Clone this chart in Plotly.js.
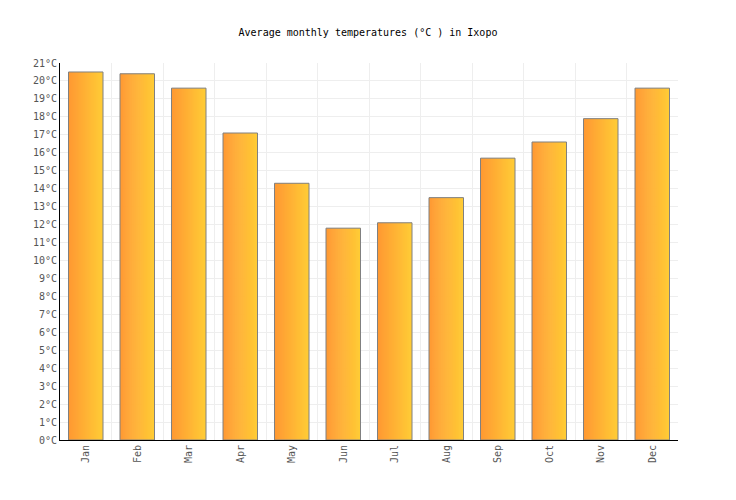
<!DOCTYPE html>
<html>
<head>
<meta charset="utf-8">
<script src="https://cdn.plot.ly/plotly-3.0.1.min.js"></script>
<style>
  html, body { margin: 0; padding: 0; background: #fff; }
  #chart { width: 736px; height: 500px; }
</style>
</head>
<body>
<div id="chart"></div>
<script>
"use strict";

// Data
var months = ["Jan", "Feb", "Mar", "Apr", "May", "Jun", "Jul", "Aug", "Sep", "Oct", "Nov", "Dec"]
var temps = [20.5, 20.4, 19.6, 17.1, 14.3, 11.8, 12.1, 13.5, 15.7, 16.6, 17.9, 19.6]
var tickValues = [0, 1, 2, 3, 4, 5, 6, 7, 8, 9, 10, 11, 12, 13, 14, 15, 16, 17, 18, 19, 20, 21]
var tickLabels = tickValues.map(function(v){ return v + "°C" })

// Plotly has no gradient fill for bars, so each bar is built from thin slices
var barWidth = 0.67
var slices = 34
var traces = []
for (var i = 0; i < slices; i++) {
  var t = i / (slices - 1)
  var g = Math.round(0x99 + t * (0xcc - 0x99))
  var b = Math.round(0x33 + t * (0x36 - 0x33))
  var w = (i === slices - 1) ? barWidth / slices : barWidth / slices + 0.012
  traces.push({
    type: "bar",
    x: months,
    y: temps,
    width: w,
    offset: -barWidth / 2 + i * barWidth / slices,
    marker: { color: "rgb(255," + g + "," + b + ")", line: { width: 0 } },
    hoverinfo: "skip",
    showlegend: false
  })
}

// Outline on top
traces.push({
  type: "bar",
  x: months,
  y: temps,
  width: barWidth,
  offset: -barWidth / 2,
  marker: { color: "rgba(0,0,0,0)", line: { color: "#808080", width: 1 } },
  showlegend: false
})

var font = "DejaVu Sans Mono, monospace"

var layout = {
  width: 736,
  height: 500,
  margin: { l: 60, r: 58, t: 63, b: 60 },
  paper_bgcolor: "#fff",
  plot_bgcolor: "#fff",
  barmode: "overlay",
  title: {
    text: "Average monthly temperatures (°C ) in Ixopo",
    font: { family: font, size: 10, color: "#000" },
    x: 0.5, xanchor: "center", y: 0.936, yanchor: "middle"
  },
  xaxis: {
    type: "category",
    tickson: "boundaries",
    ticks: "",
    tickangle: -90,
    tickfont: { family: font, size: 10, color: "#555" },
    showgrid: true,
    gridcolor: "#eeeeee",
    showline: true,
    linecolor: "#000",
    linewidth: 1,
    fixedrange: true
  },
  yaxis: {
    range: [0, 21],
    tickvals: tickValues,
    ticktext: tickLabels,
    ticks: "",
    tickfont: { family: font, size: 10, color: "#555" },
    showgrid: true,
    gridcolor: "#eeeeee",
    zeroline: false,
    showline: true,
    linecolor: "#000",
    linewidth: 1,
    fixedrange: true
  }
}

Plotly.newPlot("chart", traces, layout, { displayModeBar: false, staticPlot: true })
</script>
</body>
</html>
